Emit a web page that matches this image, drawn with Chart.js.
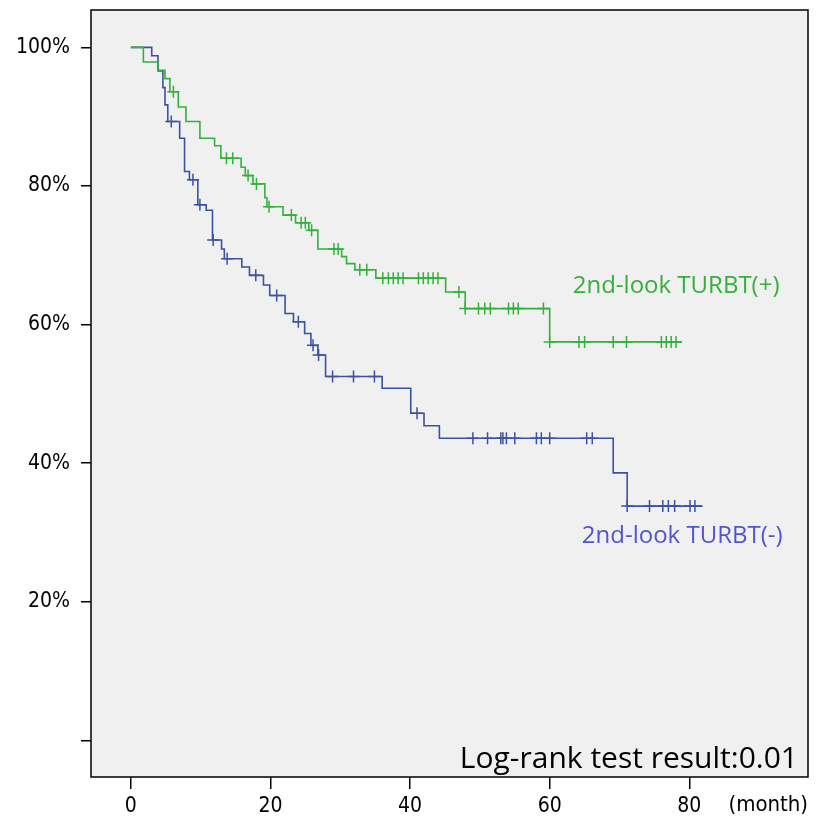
<!DOCTYPE html>
<html>
<head>
<meta charset="utf-8">
<script src="https://cdn.jsdelivr.net/npm/chart.js@4"></script>
<style>
  body { margin: 0; background: #fff; }
  #wrap { width: 825px; height: 820px; }
</style>
</head>
<body>
<div id="wrap"><canvas id="chart1" width="825" height="820"></canvas></div>
<script>
// 2nd-look TURBT(+) : event times (month) and survival after each step (%)
const greenTimes = [0, 1.8, 3.9, 4.9, 5.6, 6.8, 7.9, 9.9, 12.0, 12.9, 15.8, 16.4, 17.5, 19.2, 19.5, 21.8, 23.6, 25.5, 26.8, 30.2, 30.9, 32.1, 35.1, 45.1, 47.9, 60.0];
const greenSurv = [100, 97.9, 96.7, 95.5, 93.6, 91.4, 89.3, 86.9, 85.8, 84.0, 82.7, 81.5, 80.3, 78.3, 77.0, 75.8, 74.7, 73.6, 70.9, 69.8, 68.8, 67.9, 66.7, 64.7, 62.3, 57.5];
const greenCensor = [6.1, 13.7, 14.6, 16.8, 18.0, 19.8, 23.0, 24.4, 25.0, 25.9, 29.1, 29.7, 32.8, 33.8, 36.1, 36.9, 37.6, 38.3, 39.0, 41.2, 41.9, 42.6, 43.3, 44.0, 47.0, 47.9, 49.8, 50.7, 51.5, 54.1, 54.8, 55.5, 59.1, 60.0, 64.2, 65.0, 69.1, 71.0, 76.0, 76.7, 77.4, 78.1];
const greenEnd = 78.9;

// 2nd-look TURBT(-)
const blueTimes = [0, 3.0, 3.9, 4.6, 4.9, 5.3, 7.0, 7.7, 8.4, 9.6, 10.8, 11.7, 13.0, 13.4, 15.9, 17.0, 19.0, 19.9, 22.1, 23.3, 24.9, 25.8, 26.8, 27.9, 36.0, 40.1, 42.0, 44.2, 69.1, 71.1];
const blueSurv = [100, 98.8, 96.6, 94.2, 91.7, 89.3, 86.9, 82.1, 80.9, 77.3, 76.5, 72.2, 70.9, 69.5, 68.3, 67.1, 65.7, 64.2, 61.6, 60.4, 58.7, 57.0, 55.6, 52.5, 50.8, 47.2, 45.4, 43.6, 38.6, 33.8];
const blueCensor = [5.8, 8.9, 9.9, 11.8, 13.8, 17.9, 20.9, 24.0, 26.1, 26.9, 28.9, 31.9, 34.9, 41.0, 49.0, 51.1, 53.0, 53.3, 53.8, 55.0, 58.1, 58.8, 60.0, 65.3, 66.1, 71.1, 74.3, 76.2, 77.0, 77.9, 80.1, 80.8];
const blueEnd = 81.9;

const xTicks = [0, 20, 40, 60, 80];
const yTicks = [0, 20, 40, 60, 80, 100];

const greenColor = 'rgb(52, 176, 60)';
const blueColor = 'rgb(58, 82, 160)';
const blueText = 'rgb(84, 84, 204)';
const tickFont = '"DejaVu Sans Condensed", "Liberation Sans Narrow", sans-serif';

function curve(times, surv, end) {
  const pts = times.map((t, i) => ({ x: t, y: surv[i] }));
  pts.push({ x: end, y: surv[surv.length - 1] });
  return pts;
}

function censorPoints(censor, times, surv) {
  return censor.map(c => {
    let s = surv[0];
    for (let i = 0; i < times.length; i++) {
      if (times[i] <= c) s = surv[i];
    }
    return { x: c, y: s };
  });
}

const plotFrame = {
  id: 'plotFrame',
  beforeDraw(chart) {
    const { ctx, chartArea: a } = chart;
    ctx.save();
    ctx.fillStyle = '#f0f0f0';
    ctx.fillRect(a.left, a.top, a.width, a.height);
    ctx.restore();
  },
  afterDraw(chart) {
    const { ctx, chartArea: a, scales } = chart;
    const xs = scales.x, ys = scales.y;
    ctx.save();
    ctx.strokeStyle = '#000';
    ctx.lineWidth = 1.5;
    ctx.strokeRect(a.left, a.top, a.width, a.height);

    ctx.textBaseline = 'middle';
    ctx.font = '24px "Open Sans", sans-serif';
    ctx.fillStyle = greenColor;
    ctx.textAlign = 'left';
    ctx.fillText('2nd-look TURBT(+)', xs.getPixelForValue(63.3), ys.getPixelForValue(65.6));
    ctx.fillStyle = blueText;
    ctx.fillText('2nd-look TURBT(-)', xs.getPixelForValue(64.6), ys.getPixelForValue(29.5));

    ctx.fillStyle = '#000';
    ctx.font = '30px "Open Sans", sans-serif';
    ctx.textAlign = 'right';
    ctx.fillText('Log-rank test result:0.01', a.right - 10, a.bottom - 18);

    ctx.font = '22px ' + tickFont;
    ctx.textAlign = 'left';
    ctx.fillText('(month)', xs.getPixelForValue(85.6), 805);
    ctx.restore();
  }
};

new Chart(document.getElementById('chart1'), {
  type: 'scatter',
  data: {
    datasets: [
      {
        label: '2nd-look TURBT(+)',
        data: curve(greenTimes, greenSurv, greenEnd),
        showLine: true,
        stepped: true,
        borderColor: greenColor,
        borderWidth: 1.6,
        pointRadius: 0
      },
      {
        label: '2nd-look TURBT(-)',
        data: curve(blueTimes, blueSurv, blueEnd),
        showLine: true,
        stepped: true,
        borderColor: blueColor,
        borderWidth: 1.6,
        pointRadius: 0
      },
      {
        label: 'censored (+)',
        data: censorPoints(greenCensor, greenTimes, greenSurv),
        pointStyle: 'cross',
        pointRadius: 6,
        borderColor: greenColor,
        borderWidth: 1.5
      },
      {
        label: 'censored (-)',
        data: censorPoints(blueCensor, blueTimes, blueSurv),
        pointStyle: 'cross',
        pointRadius: 6,
        borderColor: blueColor,
        borderWidth: 1.5
      }
    ]
  },
  options: {
    responsive: false,
    animation: false,
    layout: { padding: { top: 10, right: 17, left: 0, bottom: 0 } },
    plugins: {
      legend: { display: false },
      tooltip: { enabled: false }
    },
    scales: {
      x: {
        type: 'linear',
        min: -5.7,
        max: 97,
        afterBuildTicks: scale => { scale.ticks = xTicks.map(v => ({ value: v })); },
        afterFit: scale => {
          scale.height = 43;
          scale.paddingLeft = 0;
          scale.paddingRight = 0;
        },
        border: { display: false },
        grid: { drawOnChartArea: false, drawTicks: true, tickLength: 12, color: '#000', lineWidth: 1.5 },
        ticks: {
          padding: 5,
          color: '#000',
          maxRotation: 0,
          font: { family: tickFont, size: 21 }
        }
      },
      y: {
        type: 'linear',
        min: -5.3,
        max: 105.4,
        afterBuildTicks: scale => { scale.ticks = yTicks.map(v => ({ value: v })); },
        afterFit: scale => {
          scale.width = 91;
          scale.paddingTop = 0;
          scale.paddingBottom = 0;
        },
        border: { display: false },
        grid: { drawOnChartArea: false, drawTicks: true, tickLength: 10, color: '#000', lineWidth: 1.5 },
        ticks: {
          padding: 11,
          color: '#000',
          callback: v => v === 0 ? '' : v + '%',
          font: { family: tickFont, size: 21 }
        }
      }
    }
  },
  plugins: [plotFrame]
});
</script>
</body>
</html>
